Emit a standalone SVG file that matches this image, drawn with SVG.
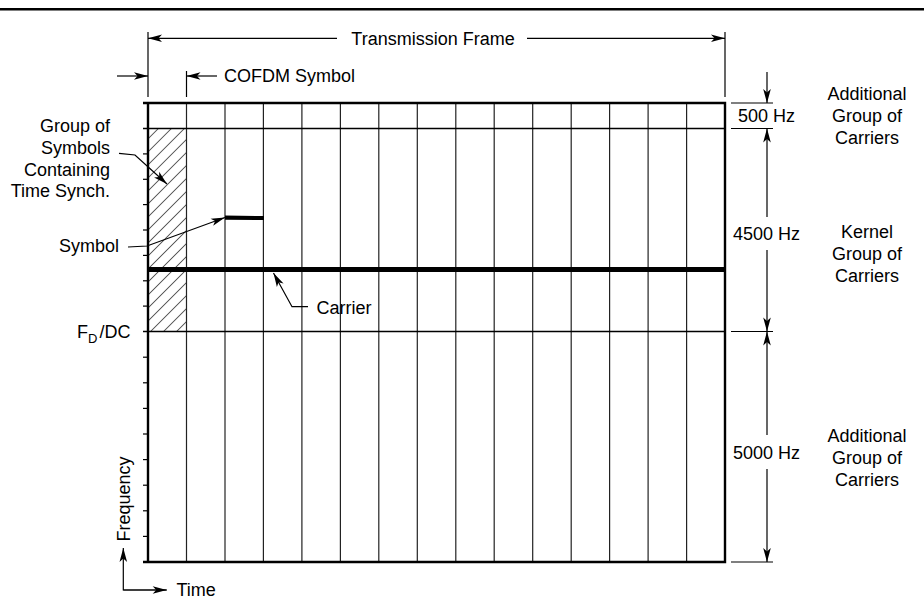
<svg xmlns="http://www.w3.org/2000/svg" width="924" height="603" viewBox="0 0 924 603">
<style>
text{font-family:"Liberation Sans",Arial,sans-serif;font-size:18px;fill:#000}
.ln{stroke:#000;fill:none;stroke-width:1.2}
.grid{stroke:#222;stroke-width:1.2;fill:none}
.frame{stroke:#000;stroke-width:2.4;fill:none}
.mid{text-anchor:middle}
.end{text-anchor:end}
</style>
<defs>
<marker id="ah" markerUnits="userSpaceOnUse" markerWidth="16" markerHeight="10" viewBox="-15 -5 16 10" refX="0" refY="0" orient="auto">
<path d="M0,0 L-14,-3.8 L-10.5,0 L-14,3.8 Z" fill="#000"/>
</marker>
<pattern id="hatch" patternUnits="userSpaceOnUse" width="9.2" height="9.2" patternTransform="rotate(45)">
<line x1="0" y1="-1" x2="0" y2="10.2" stroke="#000" stroke-width="1.2"/>
</pattern>
</defs>
<rect width="924" height="603" fill="#fff"/>
<line x1="0" y1="9.3" x2="924" y2="9.3" stroke="#000" stroke-width="2.4"/>

<g id="grid">
<rect x="148" y="128" width="39" height="203" fill="url(#hatch)"/>
<g class="grid">
<line x1="186.5" y1="103" x2="186.5" y2="562"/>
<line x1="225" y1="103" x2="225" y2="562"/>
<line x1="263.4" y1="103" x2="263.4" y2="562"/>
<line x1="301.9" y1="103" x2="301.9" y2="562"/>
<line x1="340.4" y1="103" x2="340.4" y2="562"/>
<line x1="378.8" y1="103" x2="378.8" y2="562"/>
<line x1="417.3" y1="103" x2="417.3" y2="562"/>
<line x1="455.8" y1="103" x2="455.8" y2="562"/>
<line x1="494.2" y1="103" x2="494.2" y2="562"/>
<line x1="532.7" y1="103" x2="532.7" y2="562"/>
<line x1="571.2" y1="103" x2="571.2" y2="562"/>
<line x1="609.6" y1="103" x2="609.6" y2="562"/>
<line x1="648.1" y1="103" x2="648.1" y2="562"/>
<line x1="686.6" y1="103" x2="686.6" y2="562"/>
</g>
<line x1="143" y1="128.5" x2="725" y2="128.5" stroke="#000" stroke-width="1.6"/>
<line x1="143" y1="331.5" x2="725" y2="331.5" stroke="#000" stroke-width="1.6"/>
<g class="ln" stroke-width="1.4">
<line x1="143" y1="153.9" x2="148" y2="153.9"/>
<line x1="143" y1="179.3" x2="148" y2="179.3"/>
<line x1="143" y1="204.6" x2="148" y2="204.6"/>
<line x1="143" y1="230" x2="148" y2="230"/>
<line x1="143" y1="255.4" x2="148" y2="255.4"/>
<line x1="143" y1="280.8" x2="148" y2="280.8"/>
<line x1="143" y1="306.1" x2="148" y2="306.1"/>
<line x1="143" y1="357.2" x2="148" y2="357.2"/>
<line x1="143" y1="382.8" x2="148" y2="382.8"/>
<line x1="143" y1="408.4" x2="148" y2="408.4"/>
<line x1="143" y1="434" x2="148" y2="434"/>
<line x1="143" y1="459.6" x2="148" y2="459.6"/>
<line x1="143" y1="485.2" x2="148" y2="485.2"/>
<line x1="143" y1="510.8" x2="148" y2="510.8"/>
<line x1="143" y1="536.4" x2="148" y2="536.4"/>
</g>
<path class="frame" d="M143,103 H725 V562 H143 M148,103 V562"/>
</g>

<g id="carrier">
<line x1="148" y1="269.5" x2="725" y2="269.5" stroke="#000" stroke-width="5"/>
</g>
<g id="symbol">
<path d="M225,215.6 L264,216 L264,220 L225,219.8 Z" fill="#000"/>
</g>

<g id="connectors" class="ln">
<line x1="148" y1="32" x2="148" y2="97"/>
<line x1="725" y1="32" x2="725" y2="97"/>
<line x1="186.5" y1="71" x2="186.5" y2="97"/>
<line x1="337" y1="38.3" x2="148" y2="38.3" marker-end="url(#ah)"/>
<line x1="527" y1="38.3" x2="725" y2="38.3" marker-end="url(#ah)"/>
<line x1="117" y1="76" x2="148" y2="76" marker-end="url(#ah)"/>
<line x1="217" y1="76" x2="186.5" y2="76" marker-end="url(#ah)"/>
<line x1="731" y1="103" x2="773" y2="103"/>
<line x1="731" y1="128.5" x2="773" y2="128.5"/>
<line x1="731" y1="331.5" x2="773" y2="331.5"/>
<line x1="731" y1="562" x2="773" y2="562"/>
<line x1="767" y1="72" x2="767" y2="103" marker-end="url(#ah)"/>
<line x1="767" y1="217" x2="767" y2="128.5" marker-end="url(#ah)"/>
<line x1="767" y1="250" x2="767" y2="331.5" marker-end="url(#ah)"/>
<line x1="767" y1="435" x2="767" y2="331.5" marker-end="url(#ah)"/>
<line x1="767" y1="469" x2="767" y2="562" marker-end="url(#ah)"/>
<polyline points="119,153.3 135,155 167,184" marker-end="url(#ah)"/>
<polyline points="128,247 147,246 225,217.5" marker-end="url(#ah)"/>
<polyline points="308,306.7 292,306.7 273.5,273" marker-end="url(#ah)"/>
<polyline points="166.7,590 123.3,590 123.3,548" marker-end="url(#ah)"/>
<line x1="123.3" y1="590" x2="166.7" y2="590" marker-end="url(#ah)"/>
</g>

<g id="labels">
<text x="433" y="45" class="mid">Transmission Frame</text>
<text x="224" y="82">COFDM Symbol</text>
<text x="766.5" y="121.5" class="mid">500 Hz</text>
<text x="766.5" y="240" class="mid">4500 Hz</text>
<text x="766.5" y="459" class="mid">5000 Hz</text>
<text x="867" y="99.5" class="mid">Additional</text>
<text x="867" y="121.5" class="mid">Group of</text>
<text x="867" y="143.5" class="mid">Carriers</text>
<text x="867" y="237.5" class="mid">Kernel</text>
<text x="867" y="259.5" class="mid">Group of</text>
<text x="867" y="281.5" class="mid">Carriers</text>
<text x="867" y="441.5" class="mid">Additional</text>
<text x="867" y="463.5" class="mid">Group of</text>
<text x="867" y="485.5" class="mid">Carriers</text>
<text x="110" y="131.5" class="end">Group of</text>
<text x="110" y="153.5" class="end">Symbols</text>
<text x="110" y="175.5" class="end">Containing</text>
<text x="110" y="197" class="end">Time Synch.</text>
<text x="119" y="251.5" class="end">Symbol</text>
<text x="316.5" y="314">Carrier</text>
<text x="77" y="338.3">F<tspan font-size="13" dy="4.5">D</tspan><tspan dx="2" dy="-4.5">/DC</tspan></text>
<text x="130" y="499" class="mid" transform="rotate(-90 130 499)">Frequency</text>
<text x="176.5" y="596">Time</text>
</g>
</svg>
